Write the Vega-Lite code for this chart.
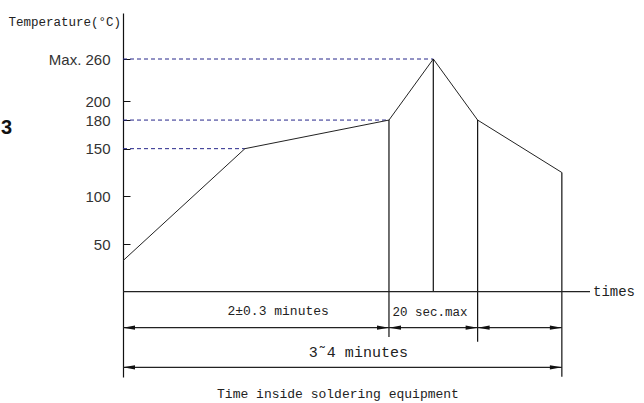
{
  "$schema": "https://vega.github.io/schema/vega-lite/v6.json",
  "width": 467,
  "height": 364,
  "autosize": {"type": "none"},
  "padding": {"left": 123, "top": 13, "right": 54, "bottom": 26},
  "background": "white",
  "config": {"view": {"stroke": null}},
  "datasets": {
    "curve": [
      {"t": 0, "temp": 32.5},
      {"t": 55, "temp": 150},
      {"t": 120, "temp": 180},
      {"t": 140, "temp": 260},
      {"t": 160, "temp": 180},
      {"t": 198, "temp": 125}
    ],
    "guides": [
      {"t0": 0, "t1": 140, "temp": 260},
      {"t0": 0, "t1": 120, "temp": 180},
      {"t0": 0, "t1": 55, "temp": 150}
    ],
    "verticals": [
      {"t": 120, "top": 180, "bottom": -47.5},
      {"t": 140, "top": 260, "bottom": 0},
      {"t": 160, "top": 180, "bottom": -52.4},
      {"t": 198, "top": 125, "bottom": -89.2}
    ],
    "spans": [
      {"t0": 0, "t1": 120, "lane": -37.8},
      {"t0": 120, "t1": 160, "lane": -37.8},
      {"t0": 160, "t1": 198, "lane": -37.8},
      {"t0": 0, "t1": 198, "lane": -79.3},
      {"t0": 0, "t1": 210.7, "lane": 0}
    ],
    "heads": [
      {"t": 0, "lane": -37.8, "dir": "left"},
      {"t": 120, "lane": -37.8, "dir": "right"},
      {"t": 120, "lane": -37.8, "dir": "left"},
      {"t": 160, "lane": -37.8, "dir": "right"},
      {"t": 160, "lane": -37.8, "dir": "left"},
      {"t": 198, "lane": -37.8, "dir": "right"},
      {"t": 0, "lane": -79.3, "dir": "left"},
      {"t": 198, "lane": -79.3, "dir": "right"}
    ],
    "labels": [
      {"t": 70, "lane": -20.2, "text": "2±0.3 minutes", "size": 13, "align": "center"},
      {"t": 138.5, "lane": -21, "text": "20 sec.max", "size": 12.5, "align": "center"},
      {"t": 106.2, "lane": -63.2, "text": "3˜4 minutes", "size": 15, "align": "center"},
      {"t": 97, "lane": -107.3, "text": "Time inside soldering equipment", "size": 13, "align": "center"}
    ]
  },
  "layer": [
    {
      "data": {"name": "guides"},
      "mark": {"type": "rule", "color": "#26268a", "strokeDash": [4, 3], "strokeWidth": 1},
      "encoding": {
        "x": {"field": "t0", "type": "quantitative", "scale": {"domain": [0, 210.7], "nice": false, "zero": false}, "axis": null},
        "x2": {"field": "t1"},
        "y": {
          "field": "temp",
          "type": "quantitative",
          "scale": {"domain": [-89.5, 200, 260, 300], "range": [364, 88, 46, 0], "nice": false, "zero": false},
          "axis": {
            "title": null,
            "values": [50, 100, 150, 180, 200, 260],
            "labelExpr": "datum.value == 260 ? 'Max. 260' : datum.label",
            "grid": false,
            "domainColor": "#111",
            "domainWidth": 1.2,
            "tickColor": "#111",
            "tickSize": -7,
            "labelPadding": 20,
            "labelFont": "Liberation Sans",
            "labelFontSize": 15,
            "labelColor": "#333",
            "labelBaseline": "middle"
          }
        }
      }
    },
    {
      "data": {"name": "curve"},
      "mark": {"type": "line", "color": "#222", "strokeWidth": 1},
      "encoding": {
        "x": {"field": "t", "type": "quantitative"},
        "y": {"field": "temp", "type": "quantitative"}
      }
    },
    {
      "data": {"name": "verticals"},
      "mark": {"type": "rule", "color": "#111", "strokeWidth": 1.2},
      "encoding": {
        "x": {"field": "t", "type": "quantitative"},
        "y": {"field": "top", "type": "quantitative"},
        "y2": {"field": "bottom"}
      }
    },
    {
      "data": {"name": "spans"},
      "mark": {"type": "rule", "color": "#222", "strokeWidth": 1.2},
      "encoding": {
        "x": {"field": "t0", "type": "quantitative"},
        "x2": {"field": "t1"},
        "y": {"field": "lane", "type": "quantitative"}
      }
    },
    {
      "data": {"name": "heads"},
      "mark": {"type": "point", "filled": true, "color": "#111", "opacity": 1, "size": 144},
      "encoding": {
        "x": {"field": "t", "type": "quantitative"},
        "y": {"field": "lane", "type": "quantitative"},
        "shape": {
          "field": "dir",
          "type": "nominal",
          "scale": {"domain": ["left", "right"], "range": ["M0,0L2,-0.35L2,0.35Z", "M0,0L-2,-0.35L-2,0.35Z"]},
          "legend": null
        }
      }
    },
    {
      "data": {"name": "labels"},
      "mark": {"type": "text", "font": "Liberation Mono", "color": "#222", "baseline": "middle", "clip": false},
      "encoding": {
        "x": {"field": "t", "type": "quantitative"},
        "y": {"field": "lane", "type": "quantitative"},
        "text": {"field": "text"},
        "size": {"field": "size", "type": "quantitative", "scale": null}
      }
    },
    {
      "data": {"values": [{"t": 210.7, "temp": 0, "text": "times"}]},
      "mark": {"type": "text", "font": "Liberation Mono", "fontSize": 14, "color": "#222", "align": "left", "baseline": "middle", "dx": 3},
      "encoding": {
        "x": {"field": "t", "type": "quantitative"},
        "y": {"field": "temp", "type": "quantitative"},
        "text": {"field": "text"}
      }
    },
    {
      "data": {"values": [{"t": 0, "temp": 292, "text": "Temperature(°C)"}]},
      "mark": {"type": "text", "font": "Liberation Mono", "fontSize": 12.5, "color": "#222", "align": "right", "baseline": "middle", "dx": -2},
      "encoding": {
        "x": {"field": "t", "type": "quantitative"},
        "y": {"field": "temp", "type": "quantitative"},
        "text": {"field": "text"}
      }
    },
    {
      "data": {"values": [{"t": -55.5, "temp": 171.5, "text": "3"}]},
      "mark": {"type": "text", "font": "Liberation Sans", "fontSize": 20, "fontWeight": "bold", "color": "#111", "align": "left", "baseline": "middle", "dx": 1},
      "encoding": {
        "x": {"field": "t", "type": "quantitative"},
        "y": {"field": "temp", "type": "quantitative"},
        "text": {"field": "text"}
      }
    }
  ]
}
